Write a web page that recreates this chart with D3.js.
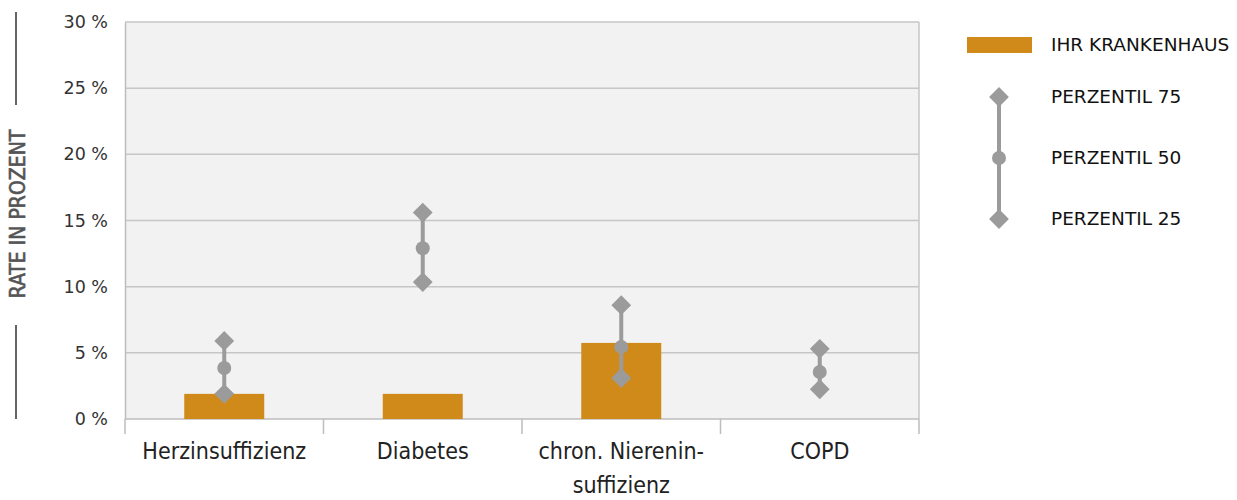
<!DOCTYPE html>
<html><head><meta charset="utf-8">
<script src="https://cdn.jsdelivr.net/npm/d3@7"></script>
<style>
body{margin:0;background:#fff;}
svg{display:block;}
</style></head>
<body>
<svg id="chart" width="1237" height="500"></svg>
<script>
const categories = ["Herzinsuffizienz", "Diabetes", "chron. Niereninsuffizienz", "COPD"];
const categoryLines = [["Herzinsuffizienz"], ["Diabetes"], ["chron. Nierenin-", "suffizienz"], ["COPD"]];
const hospitalRate = [1.9, 1.9, 5.75, null];
const p75 = [5.9, 15.6, 8.6, 5.3];
const p50 = [3.85, 12.9, 5.45, 3.55];
const p25 = [1.9, 10.35, 3.1, 2.25];
const yTicks = [0, 5, 10, 15, 20, 25, 30];

(function () {
const svg = d3.select("#chart");
const pLeft = 125, pRight = 919, pTop = 22, pBottom = 419;
const barColor = "#d08a1a", markColor = "#9b9b9b", gridColor = "#c6c6c6";
const condensed = "'DejaVu Sans Condensed', 'Liberation Sans Narrow', sans-serif";

const x = d3.scaleBand().domain(categories).range([pLeft, pRight]).paddingInner(0).paddingOuter(0);
const y = d3.scaleLinear().domain([0, 30]).range([pBottom, pTop]);

svg.append("rect").attr("x", pLeft).attr("y", pTop).attr("width", pRight - pLeft).attr("height", pBottom - pTop).attr("fill", "#f2f2f2");

svg.append("g").selectAll("line").data(yTicks.filter(d => d > 0)).join("line")
  .attr("x1", pLeft).attr("x2", pRight).attr("y1", d => y(d)).attr("y2", d => y(d))
  .attr("stroke", gridColor).attr("stroke-width", 1.5);

svg.append("line").attr("x1", pRight).attr("x2", pRight).attr("y1", pTop).attr("y2", pBottom).attr("stroke", gridColor).attr("stroke-width", 1.5);

const yAxis = d3.axisLeft(y).tickValues(yTicks).tickSize(0).tickPadding(17).tickFormat(d => d + " %");
const gy = svg.append("g").attr("transform", `translate(${pLeft},0)`).call(yAxis);
gy.select(".domain").attr("stroke", "#bdbdbd").attr("stroke-width", 1.5);
gy.selectAll("text").attr("font-family", "DejaVu Sans, sans-serif").attr("font-size", 17.5).attr("fill", "#333");

const gx = svg.append("g").attr("transform", `translate(0,${pBottom})`);
gx.append("line").attr("x1", pLeft).attr("x2", pRight).attr("stroke", "#bdbdbd").attr("stroke-width", 1.5);
const bounds = categories.map(c => x(c)).concat([pRight]);
gx.selectAll("line.tick").data(bounds).join("line").attr("class", "tick")
  .attr("x1", d => d).attr("x2", d => d).attr("y1", 0).attr("y2", 15)
  .attr("stroke", "#bdbdbd").attr("stroke-width", 1.5);
categories.forEach((c, i) => {
  const t = gx.append("text").attr("x", x(c) + x.bandwidth() / 2).attr("y", 40)
    .attr("text-anchor", "middle").attr("font-family", condensed)
    .attr("font-size", 23).attr("fill", "#222");
  categoryLines[i].forEach((l, j) => t.append("tspan").attr("x", x(c) + x.bandwidth() / 2).attr("dy", j === 0 ? 0 : 34).text(l));
});

const bw = 80;
svg.append("g").selectAll("rect").data(categories.map((c, i) => ({c, v: hospitalRate[i]})).filter(d => d.v != null)).join("rect")
  .attr("x", d => x(d.c) + x.bandwidth() / 2 - bw / 2).attr("width", bw)
  .attr("y", d => y(d.v)).attr("height", d => y(0) - y(d.v)).attr("fill", barColor);

const diamond = d3.symbol().type(d3.symbolDiamond2).size(250);
const pg = svg.append("g");
categories.forEach((c, i) => {
  const cx = x(c) + x.bandwidth() / 2;
  pg.append("line").attr("x1", cx).attr("x2", cx).attr("y1", y(p75[i])).attr("y2", y(p25[i])).attr("stroke", markColor).attr("stroke-width", 4);
  pg.append("path").attr("d", diamond).attr("transform", `translate(${cx},${y(p75[i])})`).attr("fill", markColor);
  pg.append("path").attr("d", diamond).attr("transform", `translate(${cx},${y(p25[i])})`).attr("fill", markColor);
  pg.append("circle").attr("cx", cx).attr("cy", y(p50[i])).attr("r", 7).attr("fill", markColor);
});

const ty = svg.append("g");
ty.append("text").attr("transform", "translate(25,214) rotate(-90)").attr("text-anchor", "middle")
  .attr("font-family", condensed)
  .attr("font-size", 21).attr("fill", "#555").attr("stroke", "#555").attr("stroke-width", 0.6)
  .text("RATE IN PROZENT");
ty.append("line").attr("x1", 16).attr("x2", 16).attr("y1", 12).attr("y2", 105).attr("stroke", "#666").attr("stroke-width", 2);
ty.append("line").attr("x1", 16).attr("x2", 16).attr("y1", 325).attr("y2", 419).attr("stroke", "#666").attr("stroke-width", 2);

const lg = svg.append("g").attr("font-family", "DejaVu Sans, sans-serif").attr("font-size", 18.5).attr("fill", "#111");
lg.append("rect").attr("x", 967).attr("y", 37).attr("width", 65).attr("height", 16).attr("fill", barColor);
lg.append("text").attr("x", 1051).attr("y", 45).attr("dy", "0.35em").text("IHR KRANKENHAUS");
lg.append("line").attr("x1", 999).attr("x2", 999).attr("y1", 97).attr("y2", 219).attr("stroke", markColor).attr("stroke-width", 4);
lg.append("path").attr("d", diamond).attr("transform", "translate(999,97)").attr("fill", markColor);
lg.append("path").attr("d", diamond).attr("transform", "translate(999,219)").attr("fill", markColor);
lg.append("circle").attr("cx", 999).attr("cy", 158).attr("r", 7).attr("fill", markColor);
[["PERZENTIL 75", 97], ["PERZENTIL 50", 158], ["PERZENTIL 25", 219]].forEach(([t, yy]) =>
  lg.append("text").attr("x", 1051).attr("y", yy).attr("dy", "0.35em").text(t));
})();
</script>
</body></html>
